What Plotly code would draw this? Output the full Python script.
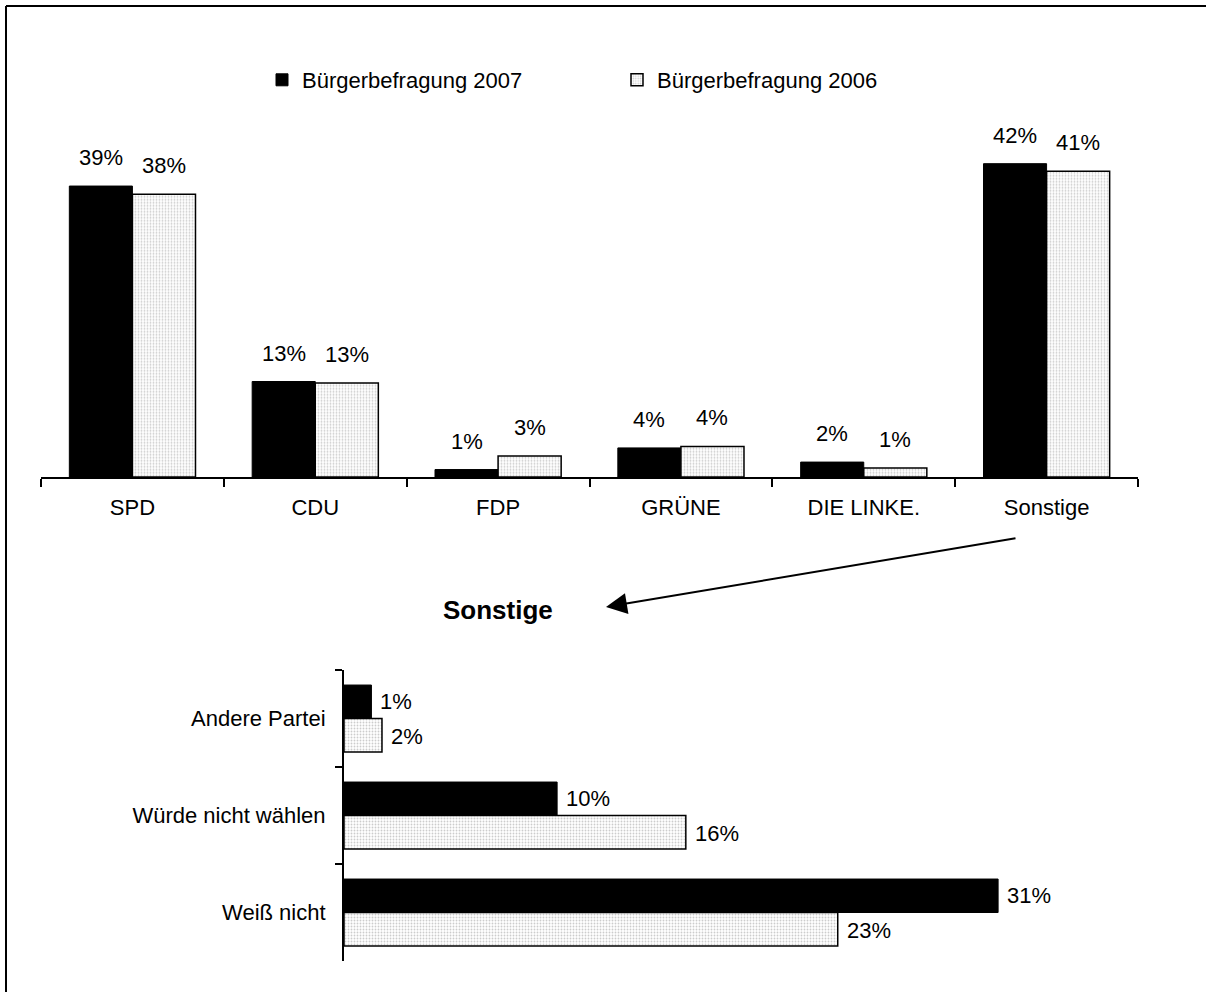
import plotly.graph_objects as go

# ---------------- data ----------------
parties = ["SPD", "CDU", "FDP", "GRÜNE", "DIE LINKE.", "Sonstige"]
vals_2007 = [39.0, 12.8, 1.0, 3.9, 2.0, 42.0]
vals_2006 = [37.9, 12.6, 2.8, 4.1, 1.2, 41.0]

sonstige_cats = ["Andere Partei", "Würde nicht wählen", "Weiß nicht"]
sonst_2007 = [1.3, 10.1, 31.0]
sonst_2006 = [1.8, 16.2, 23.4]

series_names = ["Bürgerbefragung 2007", "Bürgerbefragung 2006"]
detail_title = "Sonstige"

# ---------------- styling helpers ----------------
W, H = 1206, 992
FONT = "Liberation Sans, Arial, sans-serif"


def px_x(p):
    return p / W


def px_y(p):
    return 1 - p / H


black_marker = dict(color="black", line=dict(color="black", width=1))
dot_marker = dict(
    color="white",
    line=dict(color="black", width=1.5),
    pattern=dict(shape=".", fgcolor="#9a9a9a", bgcolor="white", size=3, solidity=0.3),
)

fig = go.Figure()

# top chart
fig.add_trace(go.Bar(x=parties, y=vals_2007, name=series_names[0], marker=black_marker,
                     xaxis="x", yaxis="y"))
fig.add_trace(go.Bar(x=parties, y=vals_2006, name=series_names[1], marker=dot_marker,
                     xaxis="x", yaxis="y"))

# bottom chart
fig.add_trace(go.Bar(y=sonstige_cats, x=sonst_2007, orientation="h", marker=black_marker,
                     xaxis="x2", yaxis="y2", showlegend=False, name=series_names[0]))
fig.add_trace(go.Bar(y=sonstige_cats, x=sonst_2006, orientation="h", marker=dot_marker,
                     xaxis="x2", yaxis="y2", showlegend=False, name=series_names[1]))

annotations = []
# value labels top chart
for cat, v7, v6 in zip(parties, vals_2007, vals_2006):
    for v, sh in ((v7, -31.5), (v6, 31.5)):
        annotations.append(dict(x=cat, y=v, xref="x", yref="y", text=f"{round(v)}%",
                                showarrow=False, xshift=sh, yshift=14, yanchor="bottom",
                                font=dict(family=FONT, size=22, color="black")))
# value labels bottom chart
for cat, v7, v6 in zip(sonstige_cats, sonst_2007, sonst_2006):
    for v, sh in ((v7, 17.5), (v6, -17.5)):
        annotations.append(dict(x=v, y=cat, xref="x2", yref="y2", text=f"{round(v)}%",
                                showarrow=False, xshift=7, yshift=sh, xanchor="left",
                                font=dict(family=FONT, size=22, color="black")))
# title of the detail chart
annotations.append(dict(x=px_x(498), y=px_y(610), xref="paper", yref="paper",
                        text=f"<b>{detail_title}</b>", showarrow=False,
                        font=dict(family=FONT, size=26, color="black")))
# arrow from Sonstige to detail title
annotations.append(dict(x=px_x(606), y=px_y(607), xref="paper", yref="paper",
                        ax=411, ay=-69, text="", showarrow=True,
                        arrowhead=2, arrowsize=2.1, arrowwidth=2, arrowcolor="black"))

shapes = [
    dict(type="line", xref="paper", yref="paper", x0=px_x(6), x1=1, y0=px_y(6), y1=px_y(6),
         line=dict(color="black", width=2)),
    dict(type="line", xref="paper", yref="paper", x0=px_x(6), x1=px_x(6), y0=0, y1=px_y(6),
         line=dict(color="black", width=2)),
]

fig.update_layout(
    width=W, height=H,
    margin=dict(l=0, r=0, t=0, b=0),
    paper_bgcolor="white", plot_bgcolor="white",
    barmode="group", bargap=0.31, bargroupgap=0,
    font=dict(family=FONT, size=22, color="black"),
    showlegend=True,
    legend=dict(orientation="h", x=px_x(262), y=px_y(80), xanchor="left", yanchor="middle",
                font=dict(family=FONT, size=22, color="black"), entrywidth=310,
                bgcolor="rgba(0,0,0,0)", traceorder="normal"),
    xaxis=dict(domain=[px_x(41), px_x(1138)], anchor="y", type="category",
               showline=True, linecolor="black", linewidth=2, ticks="outside",
               tickson="boundaries", ticklen=8, tickwidth=2, tickcolor="black",
               showgrid=False, zeroline=False, ticklabelstandoff=10,
               tickfont=dict(family=FONT, size=22, color="black")),
    yaxis=dict(domain=[px_y(477), px_y(141.3)], anchor="x", range=[0, 45],
               visible=False, showgrid=False, zeroline=False),
    xaxis2=dict(domain=[px_x(344), px_x(1188)], anchor="y2", range=[0, 40],
                visible=False, showgrid=False, zeroline=False),
    yaxis2=dict(domain=[px_y(961), px_y(670)], anchor="x2", type="category",
                autorange="reversed", showline=True, linecolor="black", linewidth=2,
                ticks="outside", tickson="boundaries", ticklen=7, tickwidth=2,
                tickcolor="black", showgrid=False, zeroline=False, ticklabelstandoff=12,
                tickfont=dict(family=FONT, size=22, color="black")),
    annotations=annotations,
    shapes=shapes,
)

fig.write_html("out.html", config={"displayModeBar": False},
               post_script="document.body.style.margin='0';document.body.style.overflow='hidden';")
